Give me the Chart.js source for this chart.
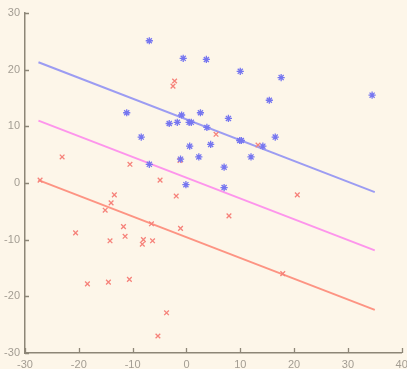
<!DOCTYPE html>
<html>
<head>
<meta charset="utf-8">
<script src="https://cdn.jsdelivr.net/npm/chart.js@4/dist/chart.umd.min.js"></script>
<style>
  html, body { margin: 0; padding: 0; background: #fdf6e9; }
  #wrap { width: 407px; height: 369px; position: relative; }
</style>
</head>
<body>
<div id="wrap"><canvas id="c"></canvas></div>
<script>
// Blue group (asterisks)
const blueX = [-6.9, -0.6, 3.7, 10.0, 17.6, 34.5, 15.4, -11.1, 2.6, -0.9, 7.8, -3.2, -1.7, 0.5, 0.9, 3.8, -8.4, 9.9, 10.2, 16.5, 0.6, 4.5, 14.2, -1.1, 2.3, 12.0, -6.9, 7.0, -0.1, 7.0];
const blueY = [25.1, 22.0, 21.8, 19.7, 18.6, 15.5, 14.6, 12.4, 12.4, 12.0, 11.4, 10.5, 10.7, 10.7, 10.7, 9.8, 8.1, 7.5, 7.5, 8.1, 6.5, 6.8, 6.5, 4.2, 4.6, 4.6, 3.3, 2.8, -0.3, -0.8];
// Red group (crosses)
const redX = [-27.2, -23.1, -10.5, -4.9, -13.4, -14.0, -15.1, -6.5, -11.7, -20.6, -11.4, -14.2, -8.0, -8.2, -6.3, -18.4, -14.5, -10.6, -2.2, -2.5, 5.5, 13.3, -1.2, 20.6, 7.9, -1.9, -1.1, 17.9, -3.7, -5.3];
const redY = [0.5, 4.6, 3.3, 0.5, -2.1, -3.5, -4.8, -7.2, -7.7, -8.8, -9.4, -10.2, -10.0, -10.8, -10.2, -17.8, -17.5, -17.0, 18.0, 17.1, 8.6, 6.7, 4.0, -2.1, -5.8, -2.3, -8.0, -16.0, -22.9, -27.0];
// Fitted lines (endpoints)
const lineX = [-27.5, 35];
const blueLineY = [21.3, -1.6];
const pinkLineY = [11.0, -11.9];
const salmonLineY = [0.5, -22.4];
// Axis ticks
const xTicks = [-30, -20, -10, 0, 10, 20, 30, 40];
const yTicks = [-30, -20, -10, 0, 10, 20, 30];

const pts = (xs, ys) => xs.map((x, i) => ({ x: x, y: ys[i] }));

const AXIS_COLOR = '#8d8677';
const LABEL_COLOR = '#a39d93';

const bgPlugin = {
  id: 'bg',
  beforeDraw(chart) {
    const ctx = chart.ctx;
    ctx.save();
    ctx.fillStyle = '#fdf6e9';
    ctx.fillRect(0, 0, chart.width, chart.height);
    ctx.restore();
  }
};

const inwardTicks = {
  id: 'inwardTicks',
  afterDraw(chart) {
    const ctx = chart.ctx;
    const xs = chart.scales.x, ys = chart.scales.y;
    const a = chart.chartArea;
    ctx.save();
    ctx.strokeStyle = AXIS_COLOR;
    ctx.lineWidth = 1.3;
    ctx.beginPath();
    xTicks.forEach(v => {
      const p = Math.round(xs.getPixelForValue(v)) + 0.5;
      ctx.moveTo(p, a.bottom);
      ctx.lineTo(p, a.bottom - 5);
    });
    yTicks.forEach(v => {
      const p = Math.round(ys.getPixelForValue(v)) + 0.5;
      ctx.moveTo(a.left, p);
      ctx.lineTo(a.left + 4, p);
    });
    ctx.stroke();
    ctx.restore();
  }
};

new Chart(document.getElementById('c'), {
  type: 'scatter',
  data: {
    datasets: [
      {
        label: 'blue line', type: 'line', data: pts(lineX, blueLineY),
        borderColor: '#9c9cf2', borderWidth: 2, pointRadius: 0, showLine: true, fill: false, order: 3
      },
      {
        label: 'pink line', type: 'line', data: pts(lineX, pinkLineY),
        borderColor: '#fd95ec', borderWidth: 2, pointRadius: 0, showLine: true, fill: false, order: 3
      },
      {
        label: 'salmon line', type: 'line', data: pts(lineX, salmonLineY),
        borderColor: '#fd9483', borderWidth: 2, pointRadius: 0, showLine: true, fill: false, order: 3
      },
      {
        label: 'blue', data: pts(blueX, blueY),
        pointStyle: 'star', pointRadius: 3.6, borderColor: '#7676f0', borderWidth: 1.3,
        backgroundColor: '#7676f0', order: 1
      },
      {
        label: 'red', data: pts(redX, redY),
        pointStyle: 'crossRot', pointRadius: 3.3, borderColor: '#f6827a', borderWidth: 1.3,
        backgroundColor: '#f6827a', order: 2
      }
    ]
  },
  options: {
    responsive: true,
    maintainAspectRatio: false,
    animation: false,
    events: [],
    layout: { padding: { top: 13, right: 4, left: 0, bottom: 0 } },
    plugins: { legend: { display: false }, tooltip: { enabled: false } },
    scales: {
      x: {
        type: 'linear', min: -30, max: 40,
        afterBuildTicks(s) { s.ticks = xTicks.map(v => ({ value: v })); },
        afterFit(s) { s.height = 16; s.paddingLeft = 0; s.paddingRight = 0; },
        grid: { display: true, drawOnChartArea: false, drawTicks: false, color: 'rgba(0,0,0,0)' },
        border: { display: true, color: AXIS_COLOR, width: 1.5 },
        ticks: { color: LABEL_COLOR, font: { family: 'Liberation Sans', size: 11 }, padding: 5, maxRotation: 0 }
      },
      y: {
        type: 'linear', min: -30, max: 30,
        afterBuildTicks(s) { s.ticks = yTicks.map(v => ({ value: v })); },
        afterFit(s) { s.width = 25; s.paddingTop = 0; s.paddingBottom = 0; },
        grid: { display: true, drawOnChartArea: false, drawTicks: false, color: 'rgba(0,0,0,0)' },
        border: { display: true, color: AXIS_COLOR, width: 1.5 },
        ticks: { color: LABEL_COLOR, font: { family: 'Liberation Sans', size: 11 }, padding: 5 }
      }
    }
  },
  plugins: [bgPlugin, inwardTicks]
});
</script>
</body>
</html>
